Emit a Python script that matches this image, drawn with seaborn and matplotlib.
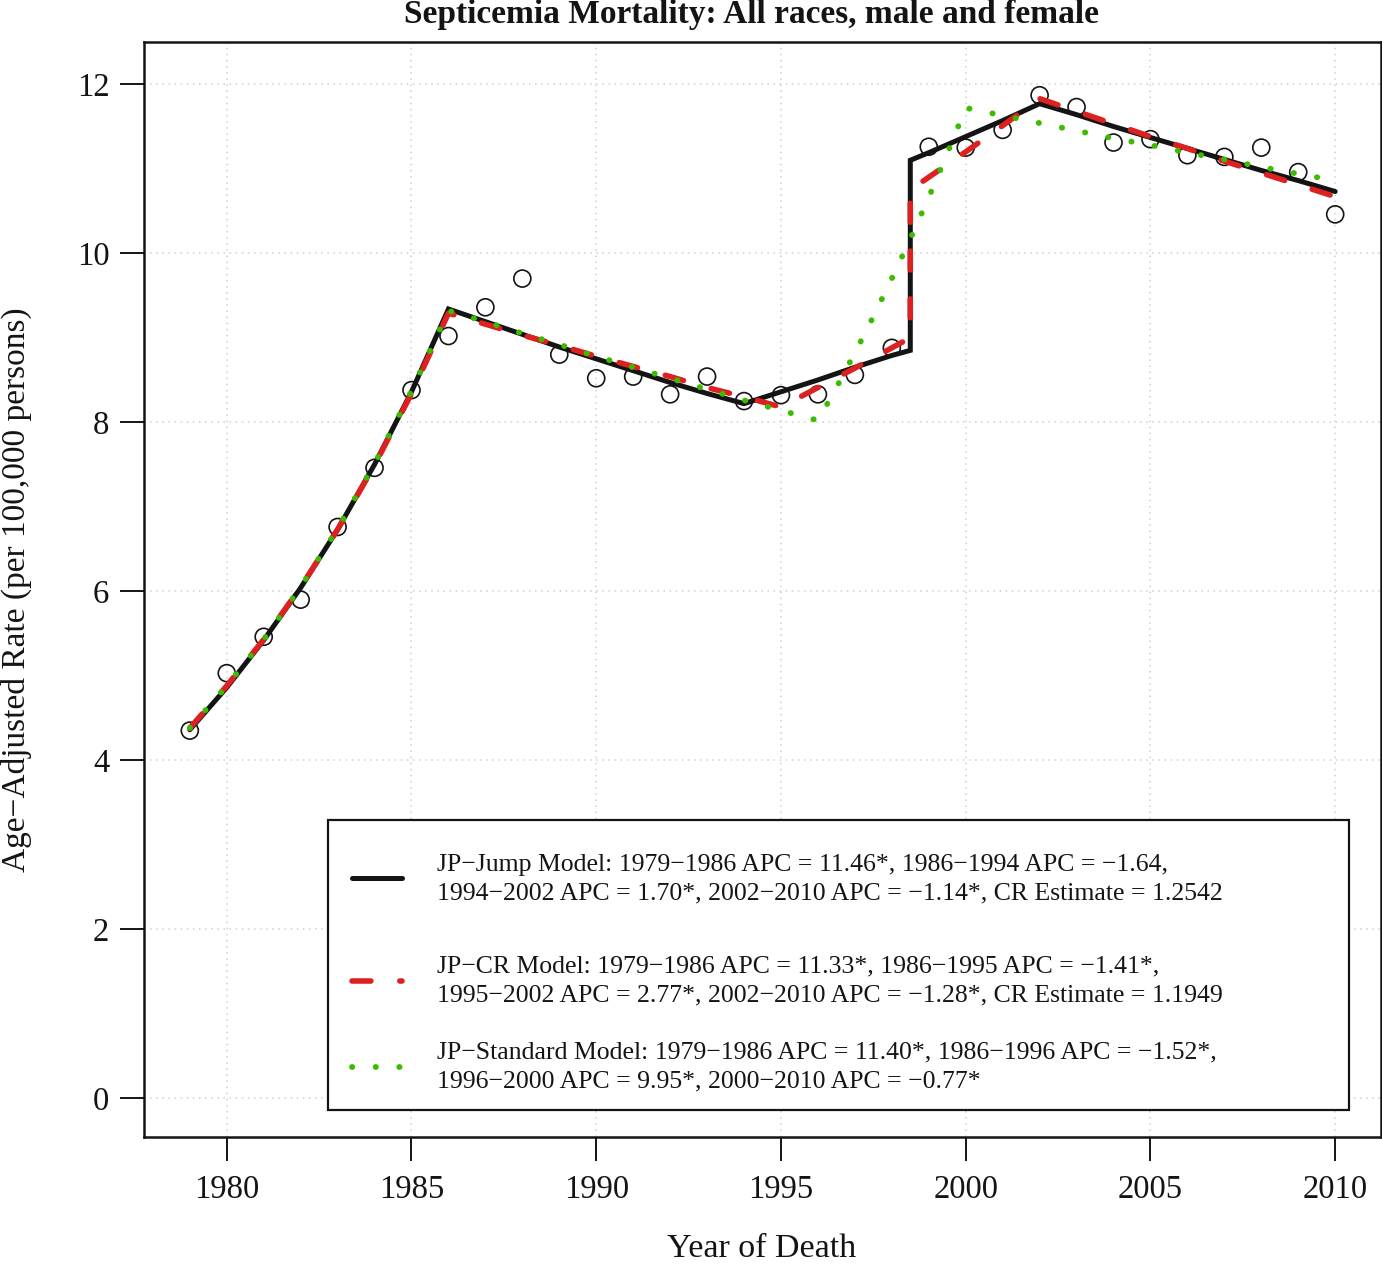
import matplotlib
matplotlib.use("Agg")
import matplotlib.pyplot as plt
import seaborn as sns
import pandas as pd
from matplotlib.patches import Rectangle
from matplotlib.lines import Line2D

# ---------------- data ----------------
obs_years = list(range(1979, 2011))
obs_rate = [4.35, 5.03, 5.46, 5.90, 6.76, 7.46, 8.38, 9.02, 9.36, 9.70,
            8.80, 8.52, 8.54, 8.33, 8.54, 8.25, 8.32, 8.33, 8.56, 8.88,
            11.26, 11.25, 11.46, 11.87, 11.73, 11.31, 11.35, 11.16, 11.14, 11.25,
            10.96, 10.46]

jump_years = list(range(1979, 1999)) + [1998.5, 1998.5] + list(range(1999, 2011))
jump_rate = [4.36, 4.86, 5.42, 6.04, 6.73, 7.50, 8.36, 9.34, 9.19, 9.04,
             8.89, 8.75, 8.61, 8.47, 8.34, 8.22, 8.36, 8.50, 8.65, 8.79,
             8.85, 11.10,
             11.19, 11.38, 11.57, 11.77, 11.64, 11.50, 11.37, 11.24, 11.11, 10.98,
             10.86, 10.73]

cr_years = list(range(1979, 1999)) + [1998.5, 1998.5] + list(range(1999, 2011))
cr_rate = [4.38, 4.88, 5.43, 6.05, 6.73, 7.49, 8.34, 9.29, 9.16, 9.03,
           8.91, 8.78, 8.66, 8.54, 8.41, 8.30, 8.18, 8.41, 8.64, 8.88,
           9.00, 10.75,
           10.90, 11.20, 11.51, 11.83, 11.68, 11.53, 11.38, 11.24, 11.09, 10.95,
           10.81, 10.67]

std_years = list(range(1979, 1997)) + [1996.5, 1997, 1997.5, 1998, 1998.5, 1999, 1999.5, 2000] \
    + list(range(2001, 2011))
std_rate = [4.38, 4.88, 5.43, 6.05, 6.74, 7.51, 8.37, 9.32,
            9.19, 9.05, 8.92, 8.78, 8.65, 8.52, 8.39, 8.26, 8.14, 8.02,
            8.41, 8.82, 9.25, 9.70, 10.17, 10.66, 11.18, 11.72,
            11.63, 11.54, 11.45, 11.36, 11.28, 11.19, 11.11, 11.02, 10.94, 10.86]

x_ticks = [1980, 1985, 1990, 1995, 2000, 2005, 2010]
y_ticks = [0, 2, 4, 6, 8, 10, 12]

title = "Septicemia Mortality: All races, male and female"
x_label = "Year of Death"
y_label = "Age\u2212Adjusted Rate (per 100,000 persons)"
legend_lines = [
    ["JP\u2212Jump Model: 1979\u22121986 APC = 11.46*, 1986\u22121994 APC = \u22121.64,",
     "1994\u22122002 APC = 1.70*, 2002\u22122010 APC = \u22121.14*, CR Estimate = 1.2542"],
    ["JP\u2212CR Model: 1979\u22121986 APC = 11.33*, 1986\u22121995 APC = \u22121.41*,",
     "1995\u22122002 APC = 2.77*, 2002\u22122010 APC = \u22121.28*, CR Estimate = 1.1949"],
    ["JP\u2212Standard Model: 1979\u22121986 APC = 11.40*, 1986\u22121996 APC = \u22121.52*,",
     "1996\u22122000 APC = 9.95*, 2000\u22122010 APC = \u22120.77*"],
]

# ---------------- style ----------------
sns.set_theme(style="white")
serif = ["Liberation Serif", "DejaVu Serif"]
plt.rcParams["font.family"] = serif
plt.rcParams["axes.unicode_minus"] = True

W, H = 1382, 1267
fig = plt.figure(figsize=(W / 100, H / 100), dpi=100)
L, R, T, B = 144, 1381, 42, 1137
ax = fig.add_axes([L / W, 1 - B / H, (R - L) / W, (B - T) / H])

def fx(px):
    return px / W

def fy(py):
    return 1 - py / H

obs_df = pd.DataFrame({"year": obs_years, "rate": obs_rate})
jump_df = pd.DataFrame({"year": jump_years, "rate": jump_rate})
cr_df = pd.DataFrame({"year": cr_years, "rate": cr_rate})
std_df = pd.DataFrame({"year": std_years, "rate": std_rate})

BLACK = "#141414"
RED = "#dd2020"
GREEN = "#3cbb00"

green_style = dict(color=GREEN, linewidth=4.2, linestyle=(0, (0.05, 4.0)),
                   dash_capstyle="round")
red_style = dict(color=RED, linewidth=4.0, linestyle=(0, (3.4, 5.2)),
                 dash_capstyle="round")

sns.scatterplot(data=obs_df, x="year", y="rate", ax=ax, marker="o", s=150,
                facecolor="none", edgecolor=BLACK, linewidth=1.2, zorder=3)
sns.lineplot(data=jump_df, x="year", y="rate", ax=ax, estimator=None, sort=False,
             color=BLACK, linewidth=3.6, zorder=4, solid_joinstyle="miter")
sns.lineplot(data=cr_df, x="year", y="rate", ax=ax, estimator=None, sort=False,
             zorder=5, **red_style)
sns.lineplot(data=std_df, x="year", y="rate", ax=ax, estimator=None, sort=False,
             zorder=6, **green_style)

ax.set_xlim(1977.76, 2011.24)
ax.set_ylim(-0.46, 12.5)
ax.set_xticks(x_ticks)
ax.set_yticks(y_ticks)
ax.set_xticklabels([str(v) for v in x_ticks])
ax.set_yticklabels([str(v) for v in y_ticks])
ax.grid(True, color="#d0d0d0", linestyle=(0, (1, 3)), linewidth=1.1)
ax.set_axisbelow(True)
for s in ax.spines.values():
    s.set_visible(True)
    s.set_color(BLACK)
    s.set_linewidth(1.8)
ax.tick_params(axis="both", which="major", direction="out", length=17, width=1.4,
               color=BLACK, labelcolor=BLACK, labelsize=23.5,
               bottom=True, left=True)
ax.tick_params(axis="x", pad=10)
ax.tick_params(axis="y", pad=8)
ax.set_xlabel("")
ax.set_ylabel("")

fig.text(fx(752), fy(14), title, ha="center", va="center", fontsize=24,
         fontweight="bold", color=BLACK, family=serif)
fig.text(fx(762), fy(1249), x_label, ha="center", va="center", fontsize=24.5,
         color=BLACK, family=serif)
fig.text(fx(16), fy(590), y_label, ha="center", va="center", fontsize=24,
         rotation=90, color=BLACK, family=serif)

# ---------------- legend box ----------------
ax.add_patch(Rectangle((fx(328), fy(1110)), fx(1349) - fx(328), fy(820) - fy(1110),
                       transform=fig.transFigure, facecolor="white",
                       edgecolor=BLACK, linewidth=1.6, zorder=10))
samples = [
    dict(color=BLACK, linewidth=3.6, linestyle="-", solid_capstyle="round"),
    red_style,
    green_style,
]
sample_y = [878, 981, 1067]
text_y = [(865, 893), (966, 995), (1052, 1081)]
for st, sy, ty, lines in zip(samples, sample_y, text_y, legend_lines):
    ax.add_line(Line2D([fx(352), fx(402)], [fy(sy), fy(sy)], transform=fig.transFigure,
                       zorder=11, **st))
    for yy, txt in zip(ty, lines):
        fig.text(fx(437), fy(yy), txt, ha="left", va="center", fontsize=18.5,
                 color=BLACK, family=serif, zorder=12)

fig.savefig("out.png", dpi=100)
